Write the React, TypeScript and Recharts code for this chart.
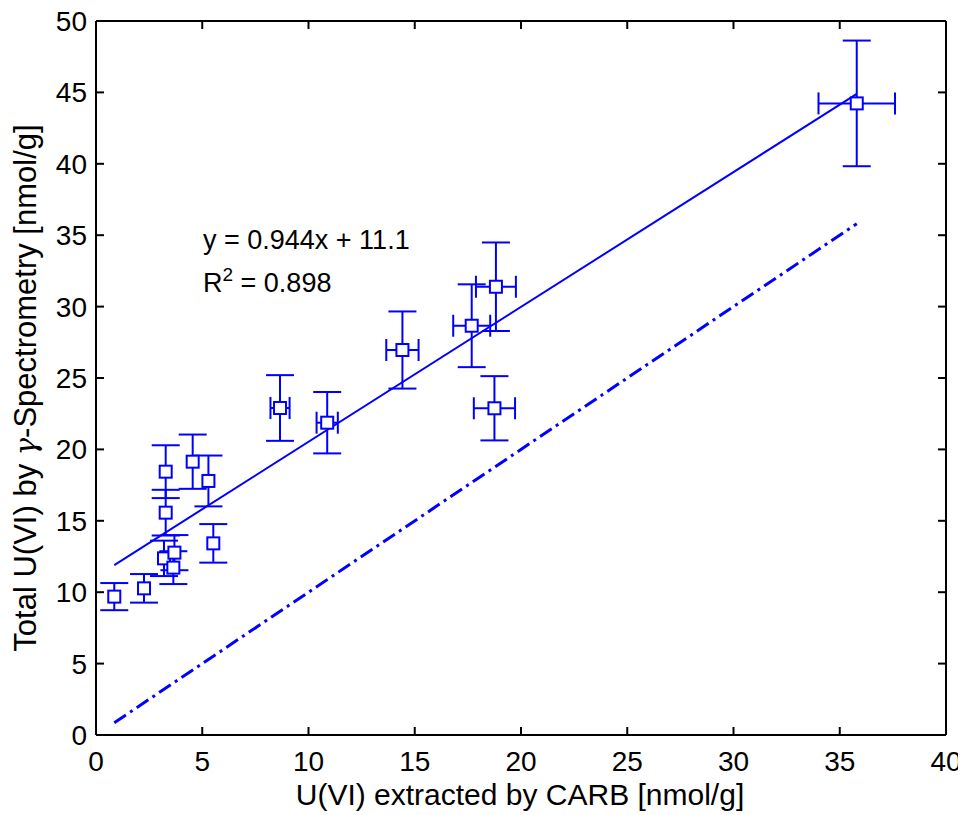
import React from "react";
import { ScatterChart, Scatter, XAxis, YAxis, ErrorBar, Customized } from "recharts";

const xVals = [0.86, 2.26, 3.2, 3.69, 3.64, 3.28, 3.28, 4.55, 5.29, 5.52, 8.66, 10.88, 14.42, 17.68, 18.82, 18.75, 35.8];
const yVals = [9.69, 10.27, 12.37, 12.77, 11.72, 15.57, 18.44, 19.14, 17.79, 13.42, 22.9, 21.87, 26.96, 28.66, 31.39, 22.88, 44.23];
const yErr = [0.95, 1.0, 1.24, 1.23, 1.15, 1.6, 1.85, 1.9, 1.78, 1.35, 2.3, 2.15, 2.7, 2.9, 3.1, 2.25, 4.4];
const xErr = [0, 0, 0, 0, 0, 0, 0, 0, 0, 0, 0.45, 0.5, 0.76, 0.87, 0.94, 0.97, 1.8];

const fitX = [0.86, 35.8];
const fitY = [11.9, 44.9];
const identX = [0.86, 35.8];
const identY = [0.86, 35.8];

const xTicks = [0, 5, 10, 15, 20, 25, 30, 35, 40];
const yTicks = [0, 5, 10, 15, 20, 25, 30, 35, 40, 45, 50];

const points = xVals.map((x, i) => ({ x, y: yVals[i], ex: xErr[i], ey: yErr[i] }));
const xErrPoints = points.filter((p) => p.ex > 0);
const fitData = fitX.map((x, i) => ({ x, y: fitY[i] }));
const identData = identX.map((x, i) => ({ x, y: identY[i] }));

const BLUE = "#0000ff";
const FONT = "'Liberation Sans', Arial, sans-serif";
const TL = 8;

const BottomTick = (p: any) => (
  <g>
    <line x1={p.x} x2={p.x} y1={p.y} y2={p.y - TL} stroke="#000" strokeWidth={2} />
    <text x={p.x} y={p.y + 36} textAnchor="middle" fontFamily={FONT} fontSize={28} fill="#000">
      {p.payload.value}
    </text>
  </g>
);
const TopTick = (p: any) => (
  <line x1={p.x} x2={p.x} y1={p.y} y2={p.y + TL} stroke="#000" strokeWidth={2} />
);
const LeftTick = (p: any) => (
  <g>
    <line x1={p.x} x2={p.x + TL} y1={p.y} y2={p.y} stroke="#000" strokeWidth={2} />
    <text x={p.x - 9} y={p.y + 10} textAnchor="end" fontFamily={FONT} fontSize={28} fill="#000">
      {p.payload.value}
    </text>
  </g>
);
const RightTick = (p: any) => (
  <line x1={p.x} x2={p.x - TL} y1={p.y} y2={p.y} stroke="#000" strokeWidth={2} />
);

const Square = (p: any) => (
  <rect x={p.cx - 6} y={p.cy - 6} width={12} height={12} fill="#fff" stroke={BLUE} strokeWidth={2} />
);
const NoShape = () => <g />;

const Annotations = () => (
  <g fontFamily={FONT} fill="#000">
    <text x={195} y={241} fontSize={27}>y = 0.944x + 11.1</text>
    <text x={195} y={284} fontSize={27}>
      R<tspan dy={-11} fontSize={19}>2</tspan><tspan dy={11}> = 0.898</tspan>
    </text>
    <text x={512} y={797} fontSize={30} textAnchor="middle">U(VI) extracted by CARB [nmol/g]</text>
    <text x={28} y={380} fontSize={31} textAnchor="middle" transform="rotate(-90 28 380)">
      Total U(VI) by <tspan fontFamily="'DejaVu Serif', serif" fontStyle="italic" fontSize={29}>γ</tspan>-Spectrometry [nmol/g]
    </text>
  </g>
);

export default function App() {
  return (
    <div style={{ width: 958, height: 807, background: "#fff" }}>
      <ScatterChart width={958} height={807} margin={{ top: 12, right: 19, bottom: 0, left: 0 }}>
        <XAxis
          xAxisId={0}
          type="number"
          dataKey="x"
          domain={[0, 40]}
          ticks={xTicks}
          height={80}
          tickSize={0}
          tickMargin={0}
          axisLine={{ stroke: "#000", strokeWidth: 2 }}
          tickLine={false}
          tick={<BottomTick />}
          interval={0}
        />
        <XAxis
          xAxisId="top"
          orientation="top"
          type="number"
          dataKey="x"
          domain={[0, 40]}
          ticks={xTicks}
          height={1}
          tickSize={0}
          tickMargin={0}
          axisLine={{ stroke: "#000", strokeWidth: 2 }}
          tickLine={false}
          tick={<TopTick />}
          interval={0}
        />
        <YAxis
          yAxisId={0}
          type="number"
          dataKey="y"
          domain={[0, 50]}
          ticks={yTicks}
          width={88}
          tickSize={0}
          tickMargin={0}
          axisLine={{ stroke: "#000", strokeWidth: 2 }}
          tickLine={false}
          tick={<LeftTick />}
          interval={0}
        />
        <YAxis
          yAxisId="right"
          orientation="right"
          type="number"
          dataKey="y"
          domain={[0, 50]}
          ticks={yTicks}
          width={1}
          tickSize={0}
          tickMargin={0}
          axisLine={{ stroke: "#000", strokeWidth: 2 }}
          tickLine={false}
          tick={<RightTick />}
          interval={0}
        />
        <Scatter
          data={identData}
          xAxisId="top"
          yAxisId="right"
          line={{ stroke: BLUE, strokeWidth: 3, strokeDasharray: "14 5 3 5" }}
          shape={NoShape}
          isAnimationActive={false}
        />
        <Scatter
          data={fitData}
          line={{ stroke: BLUE, strokeWidth: 2 }}
          shape={NoShape}
          isAnimationActive={false}
        />
        <Scatter data={points} shape={NoShape} isAnimationActive={false}>
          <ErrorBar dataKey="ey" direction="y" width={14} stroke={BLUE} strokeWidth={2} />
        </Scatter>
        <Scatter data={xErrPoints} shape={NoShape} isAnimationActive={false}>
          <ErrorBar dataKey="ex" direction="x" width={11} stroke={BLUE} strokeWidth={2} />
        </Scatter>
        <Scatter data={points} shape={Square} isAnimationActive={false} />
        <Customized component={Annotations} />
      </ScatterChart>
    </div>
  );
}
